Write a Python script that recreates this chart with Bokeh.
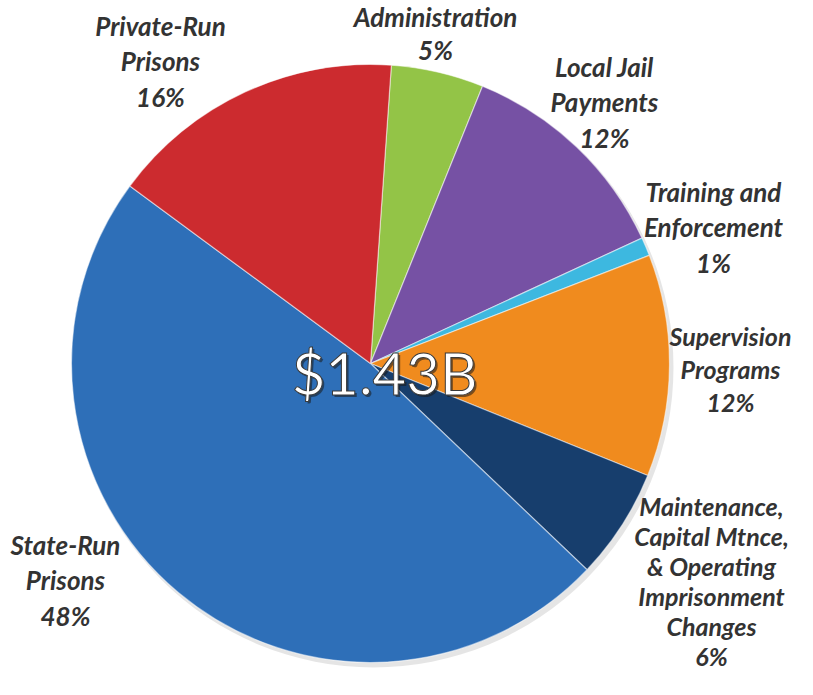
import numpy as np
from bokeh.plotting import figure
from bokeh.models import Range1d, ColumnDataSource
from bokeh.core.properties import value
from bokeh.embed import file_html
from bokeh.resources import INLINE

# ---- data ----
categories = ["Administration", "Local Jail Payments", "Training and Enforcement",
              "Supervision Programs",
              "Maintenance, Capital Mtnce, & Operating Imprisonment Changes",
              "State-Run Prisons", "Private-Run Prisons"]
shares = [5, 12, 1, 12, 6, 48, 16]
label_lines = ["Administration", "Local Jail\nPayments", "Training and\nEnforcement",
               "Supervision\nPrograms",
               "Maintenance,\nCapital Mtnce,\n& Operating\nImprisonment\nChanges",
               "State-Run\nPrisons", "Private-Run\nPrisons"]
colors = ["#93C447", "#7651A4", "#3DB8E0", "#F08B1E", "#173E6D", "#2E6FB8", "#CC2B2F"]
total_text = "$1.43B"

# ---- layout (screen-pixel coordinates, y downward negated) ----
W, H = 797, 679
cx, cy, R = 370, -363, 299
start_clock = 4.0  # degrees clockwise from 12 o'clock
label_x = [435, 604, 713, 730, 711, 65, 160]
label_y = [-33, -102, -227, -368, -580, -580, -61]
label_lh = [1.06, 1.1, 1.1, 1.1, 1.0, 1.1, 1.1]
label_fs = ["26px", "26px", "26px", "25px", "25px", "26px", "26px"]

vals = np.array(shares, dtype=float)
frac = vals / vals.sum()
ends_clock = start_clock + np.cumsum(frac) * 360.0
starts_clock = ends_clock - frac * 360.0
start_math = np.radians(90.0 - ends_clock)
end_math = np.radians(90.0 - starts_clock)

src = ColumnDataSource(dict(
    cat=categories, share=shares, color=colors,
    start=start_math, end=end_math,
))

p = figure(width=W, height=H, output_backend="svg", toolbar_location=None,
           x_range=Range1d(0, W), y_range=Range1d(-H, 0),
           min_border=0)
p.axis.visible = False
p.grid.visible = False
p.outline_line_color = None
p.background_fill_color = "white"

# soft shadow
p.circle(x=[cx + 3], y=[cy - 4], radius=R + 1, fill_color="#000000",
         fill_alpha=0.10, line_color=None)

p.wedge(x=cx, y=cy, radius=R, start_angle="start", end_angle="end",
        fill_color="color", line_color="white", line_alpha=0.5, line_width=1.2,
        source=src)

for i in range(len(shares)):
    p.text(x=[label_x[i]], y=[label_y[i]],
           text=[f"{label_lines[i]}\n{shares[i]}%"],
           text_font=value("Lato"), text_font_style="bold italic",
           text_font_size=label_fs[i], text_color="#333333",
           text_align="center", text_baseline="middle",
           text_line_height=label_lh[i])

# center total
p.text(x=[cx + 14 + 2], y=[cy - 9 - 2], text=[total_text], text_font=value("Lato"),
       text_font_size="58px", text_color="#1a1a1a", text_alpha=0.55,
       text_align="center", text_baseline="middle")
p.text(x=[cx + 14], y=[cy - 9], text=[total_text], text_font=value("Lato"),
       text_font_size="58px", text_color="white",
       text_outline_color="#3a3a3a",
       text_align="center", text_baseline="middle")

open("out.html", "w").write(file_html(p, INLINE))
